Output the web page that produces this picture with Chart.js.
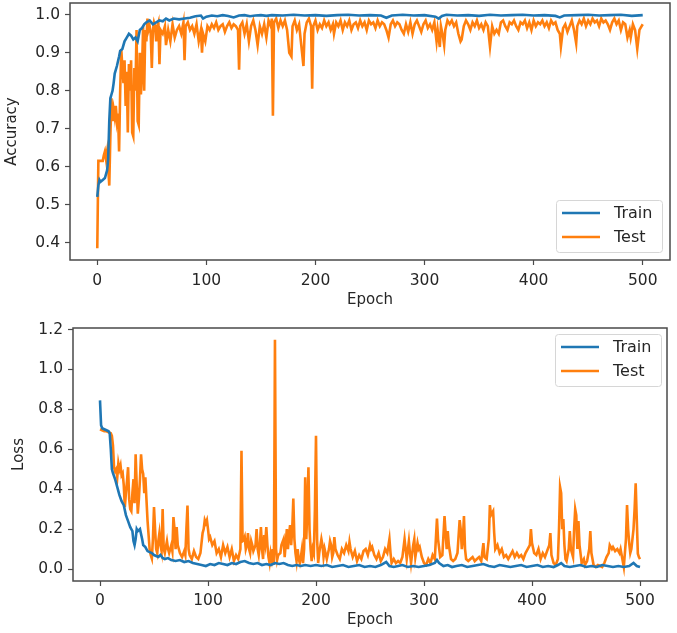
<!DOCTYPE html>
<html>
<head>
<meta charset="utf-8">
<script src="https://cdn.jsdelivr.net/npm/chart.js@4.4.0/dist/chart.umd.min.js"></script>
<style>
    body { margin: 0; background: #fff; }
    .panel { position: absolute; left: 0; width: 677px; }
    #accPanel { top: 0; height: 310px; }
    #lossPanel { top: 315px; height: 318px; }
</style>
</head>
<body>
<div class="panel" id="accPanel"><canvas id="accChart" width="677" height="310"></canvas></div>
<div class="panel" id="lossPanel"><canvas id="lossChart" width="677" height="318"></canvas></div>
<script>
// ==================== DANE ====================
// [epoka, wartosc]

const xTicks = [0, 100, 200, 300, 400, 500];
const accTicks = [0.4, 0.5, 0.6, 0.7, 0.8, 0.9, 1.0];
const lossTicks = [0.0, 0.2, 0.4, 0.6, 0.8, 1.0, 1.2];
const seriesNames = ['Train', 'Test'];

const accTrain = [
    [0,0.52],[1,0.55],[2,0.565],[3,0.56],[5,0.565],[7,0.57],[9,0.59],[10,0.62],[11,0.72],[12,0.78],
    [13,0.79],[14,0.80],[15,0.82],[16,0.845],[18,0.865],[20,0.89],[21,0.905],[23,0.91],[25,0.93],[27,0.94],
    [29,0.95],[31,0.945],[33,0.935],[35,0.94],[37,0.93],[39,0.96],[41,0.965],[43,0.975],[45,0.98],[48,0.985],
    [51,0.975],[54,0.98],[57,0.985],[60,0.983],[63,0.99],[66,0.985],[70,0.99],[75,0.988],[80,0.99],[85,0.992],
    [90,0.996],[95,0.998],[97,0.99],[100,0.995],[105,0.998],[110,0.996],[115,0.999],[120,0.997],[125,0.993],[130,0.998],
    [135,0.999],[140,0.996],[145,0.998],[150,0.999],[155,0.997],[160,0.999],[170,0.998],[180,1.0],[190,0.998],[200,0.999],
    [210,0.997],[220,0.999],[230,1.0],[240,0.998],[250,0.999],[260,0.998],[265,0.992],[270,0.998],[280,1.0],[290,0.998],
    [300,0.999],[310,0.995],[313,0.99],[316,0.997],[320,1.0],[330,0.998],[340,0.999],[350,0.997],[360,1.0],[370,0.998],
    [380,0.999],[390,1.0],[400,0.998],[410,0.999],[420,0.997],[424,0.993],[428,0.998],[440,0.999],[450,1.0],[460,0.998],
    [470,0.999],[480,1.0],[490,0.997],[500,0.999]
];

const accTest = [
    [0,0.385],[1,0.615],[3,0.615],[5,0.615],[6,0.63],[7,0.64],[8,0.62],[9,0.64],[10,0.6],[11,0.55],
    [12,0.68],[13,0.78],[14,0.72],[15,0.75],[16,0.73],[17,0.76],[18,0.72],[19,0.74],[20,0.64],[21,0.8],
    [22,0.91],[23,0.86],[24,0.82],[25,0.88],[26,0.76],[27,0.85],[28,0.69],[29,0.87],[30,0.8],[31,0.88],
    [32,0.69],[33,0.68],[34,0.86],[35,0.8],[36,0.96],[37,0.72],[38,0.71],[39,0.9],[40,0.79],[41,0.85],
    [42,0.97],[43,0.8],[44,0.96],[45,0.93],[46,0.99],[47,0.96],[48,0.97],[49,0.95],[50,0.86],[51,0.96],
    [52,0.98],[53,0.97],[54,0.93],[55,0.97],[56,0.98],[57,0.87],[58,0.96],[60,0.95],[62,0.97],[63,0.92],
    [65,0.96],[67,0.93],[69,0.975],[71,0.94],[73,0.96],[75,0.97],[77,0.95],[79,0.98],[80,0.88],[81,0.97],
    [83,0.98],[85,0.96],[87,0.97],[89,0.95],[91,0.975],[93,0.93],[95,0.96],[96,0.9],[97,0.95],[99,0.93],
    [101,0.97],[103,0.96],[105,0.975],[107,0.965],[109,0.98],[111,0.96],[113,0.97],[115,0.975],[117,0.955],[119,0.97],
    [121,0.98],[123,0.965],[125,0.975],[127,0.97],[129,0.96],[130,0.855],[131,0.97],[133,0.98],[135,0.95],[137,0.975],
    [139,0.93],[141,0.97],[143,0.985],[145,0.96],[147,0.92],[149,0.97],[151,0.95],[153,0.975],[155,0.94],[157,0.985],
    [159,0.97],[160,0.99],[161,0.734],[162,0.98],[164,0.99],[166,0.965],[168,0.985],[170,0.97],[172,0.985],[174,0.96],
    [176,0.9],[178,0.89],[179,0.97],[181,0.985],[183,0.96],[185,0.975],[187,0.92],[189,0.865],[190,0.95],[192,0.98],
    [194,0.99],[196,0.97],[197,0.805],[198,0.97],[200,0.985],[202,0.96],[204,0.975],[206,0.965],[208,0.985],[210,0.97],
    [212,0.98],[214,0.96],[216,0.975],[217,0.95],[219,0.98],[221,0.97],[223,0.985],[225,0.96],[227,0.98],[229,0.97],
    [231,0.985],[233,0.96],[235,0.975],[237,0.98],[239,0.965],[241,0.985],[243,0.97],[245,0.98],[247,0.96],[249,0.985],
    [251,0.975],[253,0.98],[255,0.965],[257,0.985],[259,0.97],[261,0.98],[263,0.975],[265,0.96],[267,0.94],[269,0.975],
    [271,0.985],[273,0.97],[275,0.98],[277,0.975],[279,0.96],[281,0.95],[283,0.975],[285,0.955],[287,0.98],[289,0.95],
    [291,0.975],[293,0.985],[295,0.97],[297,0.955],[299,0.975],[301,0.985],[303,0.965],[305,0.975],[307,0.96],[309,0.98],
    [311,0.93],[312,0.96],[314,0.915],[315,0.97],[317,0.94],[318,0.92],[319,0.96],[321,0.985],[323,0.975],[325,0.985],
    [327,0.97],[329,0.98],[331,0.95],[333,0.93],[334,0.935],[336,0.97],[338,0.985],[340,0.975],[342,0.96],[344,0.98],
    [346,0.97],[348,0.985],[350,0.965],[352,0.975],[354,0.96],[356,0.98],[358,0.97],[360,0.916],[362,0.97],[364,0.95],
    [366,0.96],[368,0.95],[370,0.98],[372,0.985],[374,0.97],[376,0.96],[378,0.98],[380,0.975],[382,0.985],[384,0.97],
    [386,0.96],[388,0.98],[390,0.975],[392,0.985],[394,0.965],[396,0.98],[398,0.96],[400,0.985],[402,0.97],[404,0.98],
    [406,0.975],[408,0.985],[410,0.97],[412,0.98],[414,0.965],[416,0.985],[418,0.975],[420,0.98],[422,0.96],[424,0.95],
    [425,0.916],[427,0.965],[429,0.975],[431,0.955],[433,0.97],[435,0.985],[437,0.96],[439,0.925],[440,0.97],[442,0.985],
    [444,0.975],[446,0.99],[448,0.97],[450,0.985],[452,0.975],[454,0.99],[456,0.98],[458,0.985],[460,0.97],[462,0.99],
    [464,0.98],[466,0.985],[468,0.975],[470,0.96],[472,0.98],[474,0.99],[476,0.975],[478,0.985],[480,0.96],[482,0.98],
    [484,0.975],[486,0.94],[488,0.96],[489,0.94],[491,0.975],[493,0.96],[495,0.91],[497,0.96],[499,0.97],[500,0.975]
];

const lossTrain = [
    [0,0.845],[1,0.72],[2,0.705],[4,0.70],[6,0.695],[8,0.69],[9,0.68],[10,0.6],[11,0.5],[12,0.48],
    [14,0.45],[16,0.41],[18,0.37],[20,0.34],[22,0.32],[24,0.27],[26,0.24],[28,0.21],[30,0.19],[31,0.14],
    [32,0.12],[33,0.15],[34,0.20],[35,0.19],[37,0.2],[39,0.15],[40,0.12],[42,0.11],[44,0.09],[46,0.085],
    [48,0.08],[50,0.07],[52,0.065],[54,0.06],[56,0.07],[58,0.055],[60,0.05],[63,0.055],[66,0.045],[70,0.04],
    [74,0.045],[78,0.035],[82,0.04],[86,0.03],[90,0.025],[94,0.02],[98,0.015],[102,0.025],[106,0.02],[110,0.03],
    [114,0.025],[118,0.02],[122,0.03],[126,0.025],[130,0.035],[134,0.04],[138,0.03],[142,0.025],[146,0.03],[150,0.02],
    [154,0.025],[158,0.02],[162,0.03],[166,0.025],[170,0.03],[174,0.02],[178,0.015],[182,0.02],[186,0.015],[190,0.02],
    [195,0.015],[200,0.02],[205,0.015],[210,0.02],[215,0.01],[220,0.015],[225,0.02],[230,0.01],[235,0.015],[240,0.02],
    [245,0.01],[250,0.015],[255,0.01],[260,0.02],[265,0.035],[268,0.015],[272,0.01],[276,0.015],[280,0.02],[285,0.01],
    [290,0.015],[295,0.01],[300,0.015],[305,0.02],[310,0.03],[312,0.045],[314,0.03],[318,0.015],[322,0.02],[326,0.01],
    [330,0.015],[335,0.02],[340,0.01],[345,0.015],[350,0.02],[355,0.025],[360,0.015],[365,0.01],[370,0.02],[375,0.015],
    [380,0.01],[385,0.015],[390,0.02],[395,0.01],[400,0.015],[405,0.02],[410,0.01],[415,0.015],[420,0.01],[424,0.02],
    [427,0.03],[430,0.015],[435,0.01],[440,0.015],[445,0.02],[450,0.01],[455,0.015],[460,0.01],[465,0.02],[470,0.015],
    [475,0.01],[480,0.015],[485,0.01],[490,0.015],[494,0.03],[497,0.015],[500,0.01]
];

const lossTest = [
    [0,0.70],[2,0.695],[4,0.69],[6,0.69],[8,0.685],[10,0.68],[11,0.667],[12,0.62],[13,0.51],[14,0.49],
    [15,0.5],[16,0.46],[17,0.53],[18,0.5],[19,0.52],[20,0.47],[21,0.48],[22,0.42],[23,0.31],[24,0.38],
    [25,0.44],[26,0.51],[27,0.35],[28,0.3],[29,0.29],[30,0.38],[31,0.45],[32,0.33],[33,0.575],[34,0.42],
    [35,0.277],[36,0.35],[37,0.45],[38,0.575],[39,0.5],[40,0.476],[41,0.38],[42,0.46],[43,0.35],[44,0.244],
    [45,0.17],[46,0.095],[47,0.07],[48,0.053],[49,0.15],[50,0.31],[51,0.2],[52,0.1],[53,0.08],[54,0.14],
    [55,0.18],[56,0.12],[57,0.09],[58,0.3],[59,0.1],[60,0.08],[62,0.14],[63,0.1],[64,0.08],[66,0.12],
    [67,0.09],[68,0.26],[69,0.2],[70,0.1],[71,0.21],[72,0.12],[74,0.08],[76,0.06],[78,0.09],[79,0.07],
    [80,0.2],[81,0.318],[82,0.1],[83,0.07],[85,0.05],[87,0.09],[89,0.06],[91,0.05],[93,0.08],[95,0.18],
    [96,0.2],[97,0.245],[98,0.23],[99,0.245],[100,0.2],[101,0.15],[102,0.16],[104,0.12],[106,0.14],[108,0.08],
    [110,0.1],[112,0.06],[114,0.12],[116,0.08],[118,0.11],[120,0.06],[122,0.1],[124,0.04],[126,0.07],[128,0.05],
    [130,0.1],[131,0.592],[132,0.14],[133,0.144],[134,0.16],[135,0.1],[136,0.12],[137,0.18],[138,0.1],[139,0.08],
    [140,0.14],[141,0.12],[142,0.09],[144,0.12],[145,0.2],[146,0.1],[147,0.07],[148,0.12],[149,0.21],[150,0.1],
    [151,0.05],[152,0.17],[153,0.13],[154,0.21],[155,0.12],[156,0.06],[157,0.03],[158,0.08],[159,0.05],[160,0.1],
    [161,0.02],[162,1.149],[163,0.1],[164,0.045],[165,0.07],[167,0.08],[168,0.12],[170,0.15],[171,0.06],[173,0.2],
    [174,0.1],[175,0.17],[176,0.22],[177,0.12],[178,0.2],[179,0.353],[180,0.15],[181,0.08],[182,0.04],[183,0.1],
    [184,0.05],[185,0.03],[186,0.06],[187,0.1],[188,0.03],[189,0.1],[190,0.46],[191,0.15],[192,0.3],[193,0.51],
    [194,0.2],[195,0.1],[196,0.04],[197,0.1],[198,0.08],[199,0.3],[200,0.667],[201,0.15],[202,0.03],[203,0.08],
    [205,0.15],[206,0.12],[207,0.06],[208,0.1],[210,0.05],[212,0.1],[213,0.14],[214,0.12],[215,0.06],[216,0.08],
    [217,0.16],[218,0.1],[220,0.07],[222,0.05],[224,0.1],[226,0.08],[228,0.12],[230,0.09],[231,0.135],[232,0.1],
    [234,0.06],[236,0.09],[238,0.04],[240,0.07],[242,0.05],[244,0.09],[246,0.1],[248,0.07],[250,0.12],[251,0.1],
    [252,0.11],[254,0.07],[256,0.05],[258,0.08],[260,0.04],[262,0.06],[264,0.1],[266,0.08],[268,0.15],[269,0.08],
    [270,0.03],[272,0.05],[274,0.03],[276,0.04],[278,0.03],[280,0.06],[282,0.15],[283,0.1],[284,0.05],[286,0.14],
    [287,0.08],[288,0.03],[290,0.12],[291,0.15],[292,0.06],[294,0.13],[295,0.1],[296,0.11],[298,0.06],[300,0.03],
    [302,0.02],[304,0.05],[306,0.03],[308,0.07],[310,0.05],[312,0.253],[313,0.15],[315,0.06],[317,0.07],[319,0.265],
    [320,0.18],[321,0.1],[322,0.19],[323,0.12],[325,0.05],[327,0.04],[329,0.05],[331,0.08],[333,0.245],[334,0.2],
    [335,0.1],[336,0.15],[337,0.265],[338,0.1],[339,0.05],[341,0.04],[343,0.05],[345,0.06],[347,0.04],[349,0.05],
    [351,0.06],[353,0.04],[355,0.13],[356,0.06],[358,0.05],[360,0.15],[361,0.32],[362,0.27],[364,0.29],[365,0.18],
    [366,0.1],[368,0.12],[370,0.08],[372,0.1],[374,0.06],[376,0.07],[378,0.05],[380,0.07],[382,0.09],[384,0.06],
    [386,0.08],[388,0.06],[390,0.07],[392,0.05],[394,0.08],[396,0.1],[398,0.12],[399,0.2],[400,0.13],[402,0.08],
    [404,0.07],[406,0.1],[408,0.05],[410,0.08],[412,0.06],[414,0.09],[416,0.12],[417,0.18],[418,0.07],[420,0.03],
    [422,0.02],[424,0.05],[425,0.2],[426,0.41],[427,0.38],[428,0.2],[429,0.25],[430,0.12],[431,0.05],[432,0.04],
    [434,0.1],[435,0.19],[436,0.1],[438,0.06],[439,0.2],[440,0.30],[441,0.27],[442,0.1],[443,0.24],[444,0.12],
    [446,0.03],[448,0.05],[449,0.02],[451,0.04],[453,0.1],[454,0.19],[455,0.08],[457,0.02],[459,0.01],[461,0.02],
    [463,0.015],[465,0.01],[467,0.03],[469,0.06],[471,0.08],[472,0.12],[474,0.1],[475,0.11],[477,0.09],[479,0.1],
    [481,0.08],[482,0.1],[484,0.04],[485,0.01],[487,0.15],[488,0.32],[489,0.2],[490,0.13],[491,0.08],[492,0.1],
    [494,0.2],[495,0.3],[496,0.43],[497,0.25],[498,0.077],[499,0.06],[500,0.05]
];

// ==================== STYL ====================

const BLUE = '#1f77b4';
const ORANGE = '#ff7f0e';
const TEXT = '#262626';
const FONT = 'DejaVu Sans';
const LINE_W = 2.6;

// Ramka wokol obszaru wykresu (jak w matplotlib)
const framePlugin = {
    id: 'frame',
    afterDatasetsDraw(chart) {
        const a = chart.chartArea;
        const ctx = chart.ctx;
        ctx.save();
        ctx.strokeStyle = '#4a4a4a';
        ctx.lineWidth = 1.5;
        ctx.strokeRect(a.left, a.top, a.right - a.left, a.bottom - a.top);
        ctx.restore();
    }
};

// Legenda w rogu obszaru wykresu
const boxLegendPlugin = {
    id: 'boxLegend',
    afterDraw(chart, args, opts) {
        const a = chart.chartArea;
        const ctx = chart.ctx;
        const w = 106, h = 52;
        const x = a.right - opts.inset - w;
        const y = opts.corner === 'bottom' ? a.bottom - opts.inset - h : a.top + opts.inset;
        ctx.save();
        ctx.fillStyle = 'rgba(255,255,255,0.85)';
        ctx.strokeStyle = '#d6d6d6';
        ctx.lineWidth = 1;
        ctx.beginPath();
        ctx.roundRect(x + 0.5, y + 0.5, w, h, 3);
        ctx.fill();
        ctx.stroke();
        ctx.font = '16px "' + FONT + '"';
        ctx.textBaseline = 'middle';
        chart.data.datasets.forEach((ds, i) => {
            const cy = y + 13 + i * 24;
            ctx.strokeStyle = ds.borderColor;
            ctx.lineWidth = LINE_W;
            ctx.beginPath();
            ctx.moveTo(x + 6, cy);
            ctx.lineTo(x + 44, cy);
            ctx.stroke();
            ctx.fillStyle = TEXT;
            ctx.fillText(ds.label, x + 58, cy + 1);
        });
        ctx.restore();
    }
};

function toXY(points) {
    return points.map(p => ({ x: p[0], y: p[1] }));
}

function makeChart(canvasId, s) {
    const ctx = document.getElementById(canvasId).getContext('2d');
    return new Chart(ctx, {
        type: 'line',
        data: {
            datasets: [
                { label: seriesNames[0], data: toXY(s.train), borderColor: BLUE, borderWidth: LINE_W, pointRadius: 0, tension: 0 },
                { label: seriesNames[1], data: toXY(s.test), borderColor: ORANGE, borderWidth: LINE_W, pointRadius: 0, tension: 0 }
            ]
        },
        options: {
            responsive: false,
            animation: false,
            events: [],
            layout: { padding: s.padding },
            plugins: {
                legend: { display: false },
                tooltip: { enabled: false },
                boxLegend: { corner: s.legendCorner, inset: s.legendInset }
            },
            scales: {
                x: {
                    type: 'linear',
                    min: -25,
                    max: 525,
                    border: { display: false },
                    grid: { drawOnChartArea: false, tickLength: 5, tickColor: '#4a4a4a', tickWidth: 1.2 },
                    ticks: { color: TEXT, font: { family: FONT, size: 15.5 }, padding: s.xTickPad, maxRotation: 0 },
                    title: { display: true, text: 'Epoch', color: TEXT, font: { family: FONT, size: 15 }, padding: { top: 0, bottom: s.xTitlePad } },
                    afterBuildTicks: scale => { scale.ticks = xTicks.map(v => ({ value: v })); },
                    afterFit: scale => {
                        scale.height = s.xHeight;
                        scale.paddingLeft = 0;
                        scale.paddingRight = 0;
                    }
                },
                y: {
                    min: s.yMin,
                    max: s.yMax,
                    border: { display: false },
                    grid: { drawOnChartArea: false, tickLength: 5, tickColor: '#4a4a4a', tickWidth: 1.2 },
                    ticks: { color: TEXT, font: { family: FONT, size: 15.5 }, padding: 5, callback: v => v.toFixed(1) },
                    title: { display: true, text: s.yTitle, color: TEXT, font: { family: FONT, size: 15 }, padding: { top: s.yTitlePad, bottom: 0 } },
                    afterBuildTicks: scale => { scale.ticks = s.yTicks.map(v => ({ value: v })); },
                    afterFit: scale => {
                        scale.width = s.yWidth;
                        scale.paddingTop = 0;
                        scale.paddingBottom = 0;
                    }
                }
            }
        },
        plugins: [framePlugin, boxLegendPlugin]
    });
}

// ==================== WYKRESY ====================

makeChart('accChart', {
    train: accTrain, test: accTest,
    yTicks: accTicks, yMin: 0.354, yMax: 1.031, yTitle: 'Accuracy',
    padding: { top: 3, right: 7, left: 0, bottom: 0 },
    yWidth: 70, xHeight: 50, xTickPad: 7, xTitlePad: 1, yTitlePad: 3,
    legendCorner: 'bottom', legendInset: 8
});

makeChart('lossChart', {
    train: lossTrain, test: lossTest,
    yTicks: lossTicks, yMin: -0.06, yMax: 1.2075, yTitle: 'Loss',
    padding: { top: 13, right: 10, left: 0, bottom: 0 },
    yWidth: 73, xHeight: 52, xTickPad: 6, xTitlePad: 4, yTitlePad: 10,
    legendCorner: 'top', legendInset: 6
});
</script>
</body>
</html>
